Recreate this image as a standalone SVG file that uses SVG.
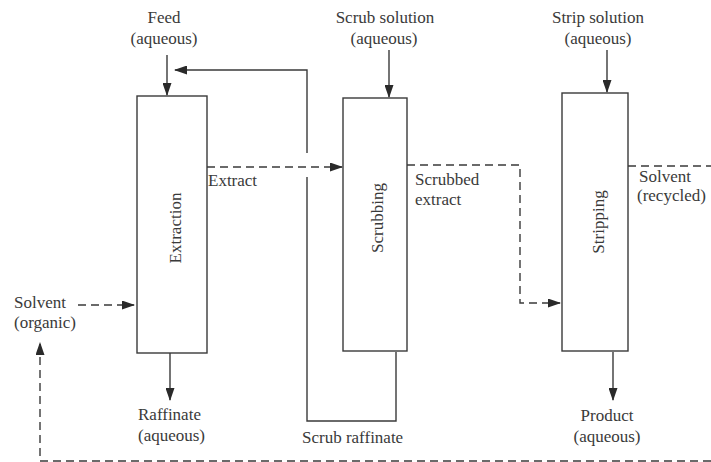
<svg xmlns="http://www.w3.org/2000/svg" width="711" height="462" viewBox="0 0 711 462">
<defs>
<marker id="arr" markerWidth="13" markerHeight="9" refX="12" refY="4.5" orient="auto" markerUnits="userSpaceOnUse">
<path d="M0,0 L13,4.5 L0,9 z" fill="#2a2a2a"/>
</marker>
<style>
.box{fill:#fff;stroke:#3a3a3a;stroke-width:1.4}
.ln{fill:none;stroke:#3a3a3a;stroke-width:1.4}
.ds{fill:none;stroke:#3a3a3a;stroke-width:1.4;stroke-dasharray:8,5}
text{font-family:"Liberation Serif","Times New Roman",serif;font-size:17px;fill:#3a3a3a}
.m{text-anchor:middle}
</style>
</defs>
<rect width="711" height="462" fill="#fff"/>
<g id="connectors">
<line class="ln" x1="167" y1="55" x2="167" y2="95" marker-end="url(#arr)"/>
<path class="ln" d="M307,153 L307,70 L175,70" marker-end="url(#arr)"/>
<path class="ln" d="M307,177 L307,421 L396,421 L396,352"/>
<line class="ds" x1="207" y1="167" x2="342" y2="167" marker-end="url(#arr)"/>
<line class="ln" x1="389" y1="50" x2="389" y2="97" marker-end="url(#arr)"/>
<path class="ds" d="M407,165 L520,165 L520,303 L560,303" marker-end="url(#arr)"/>
<line class="ln" x1="607" y1="50" x2="607" y2="92" marker-end="url(#arr)"/>
<line class="ds" x1="628" y1="166" x2="711" y2="166"/>
<line class="ln" x1="613" y1="352" x2="613" y2="400" marker-end="url(#arr)"/>
<line class="ln" x1="170" y1="353" x2="170" y2="400" marker-end="url(#arr)"/>
<line class="ds" x1="78" y1="305" x2="134" y2="305" marker-end="url(#arr)"/>
<path class="ds" d="M711,461 L40,461 L40,343" marker-end="url(#arr)"/>
</g>
<g id="extraction">
<rect class="box" x="137" y="96" width="70" height="257"/>
<text class="m" transform="translate(181,228) rotate(-90)">Extraction</text>
</g>
<g id="scrubbing">
<rect class="box" x="343" y="98" width="64" height="253"/>
<text class="m" transform="translate(383,218) rotate(-90)">Scrubbing</text>
</g>
<g id="stripping">
<rect class="box" x="562" y="93" width="66" height="258"/>
<text class="m" transform="translate(604,222) rotate(-90)">Stripping</text>
</g>
<g id="labels">
<text class="m" x="164" y="23">Feed</text>
<text class="m" x="164" y="44">(aqueous)</text>
<text class="m" x="385" y="23">Scrub solution</text>
<text class="m" x="384" y="44">(aqueous)</text>
<text class="m" x="598" y="23">Strip solution</text>
<text class="m" x="598" y="44">(aqueous)</text>
<text x="208" y="186">Extract</text>
<text x="415" y="185">Scrubbed</text>
<text x="415" y="205">extract</text>
<text x="639" y="182">Solvent</text>
<text x="637" y="201">(recycled)</text>
<text x="14" y="308">Solvent</text>
<text x="14" y="328">(organic)</text>
<text x="138" y="420">Raffinate</text>
<text x="138" y="441">(aqueous)</text>
<text x="302" y="443">Scrub raffinate</text>
<text class="m" x="607" y="421">Product</text>
<text class="m" x="607" y="442">(aqueous)</text>
</g>
</svg>
